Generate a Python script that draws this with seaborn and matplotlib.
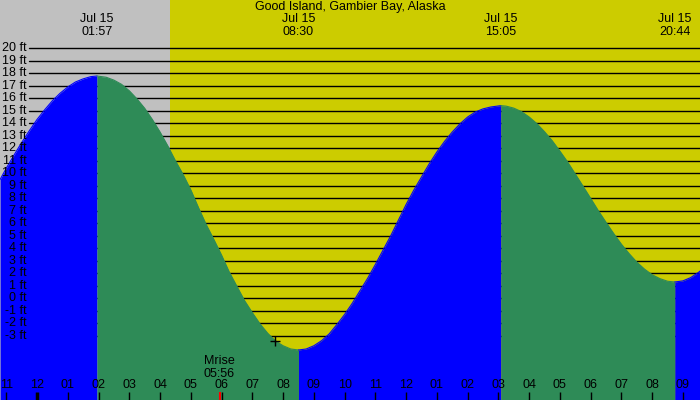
import numpy as np
import pandas as pd
import matplotlib
matplotlib.use("Agg")
import matplotlib.pyplot as plt
import matplotlib.transforms as mtransforms
import seaborn as sns

title = "Good Island, Gambier Bay, Alaska"

# tide height (ft), hours from midnight Jul 15
tide_hours = [-1.2, -1.0, -0.75, -0.5, -0.25, 0.0, 0.25, 0.5, 0.75, 1.0, 1.25, 1.5, 1.75, 1.95,
              2.25, 2.5, 2.75, 3.0, 3.25, 3.5, 3.75, 4.0, 4.25, 4.5, 4.75, 5.0, 5.25, 5.5, 5.75,
              6.0, 6.25, 6.5, 6.75, 7.0, 7.25, 7.5, 7.75, 8.0, 8.25, 8.5,
              8.75, 9.0, 9.25, 9.5, 9.75, 10.0, 10.25, 10.5, 10.75, 11.0, 11.25, 11.5, 11.75,
              12.0, 12.25, 12.5, 12.75, 13.0, 13.25, 13.5, 13.75, 14.0, 14.25, 14.5, 14.75, 15.083,
              15.25, 15.5, 15.75, 16.0, 16.25, 16.5, 16.75, 17.0, 17.25, 17.5, 17.75, 18.0,
              18.25, 18.5, 18.75, 19.0, 19.25, 19.5, 19.75, 20.0, 20.25, 20.5, 20.733,
              21.0, 21.25, 21.5, 21.6]
tide_ft = [9.5, 10.4, 11.44, 12.45, 13.4, 14.3, 15.08, 15.8, 16.4, 16.9, 17.3, 17.55, 17.73, 17.78,
           17.68, 17.45, 17.11, 16.6, 15.95, 15.2, 14.3, 13.3, 12.2, 11.0, 9.9, 8.67, 7.25, 5.9, 4.7,
           3.45, 2.1, 0.95, -0.2, -1.15, -2.05, -2.8, -3.41, -3.8, -4.06, -4.14,
           -4.06, -3.8, -3.4, -2.85, -2.1, -1.3, -0.4, 0.6, 1.6, 2.7, 3.85, 5.0, 6.25,
           7.5, 8.65, 9.7, 10.75, 11.7, 12.55, 13.3, 13.95, 14.5, 14.9, 15.15, 15.3, 15.41,
           15.37, 15.21, 14.93, 14.5, 13.97, 13.32, 12.6, 11.77, 10.9, 9.94, 8.97, 7.99,
           7.0, 6.07, 5.17, 4.32, 3.57, 2.89, 2.33, 1.88, 1.57, 1.36, 1.3,
           1.39, 1.65, 2.06, 2.26]

# highs / lows shown at the top
extreme_hours = [1.95, 8.5, 15.083, 20.733]
extreme_labels = ["01:57", "08:30", "15:05", "20:44"]
extreme_dates = ["Jul 15", "Jul 15", "Jul 15", "Jul 15"]

sunrise_hour = 4.32
moonrise_hour = 5.933
moonrise_label = "05:56"

ft_levels = list(range(-3, 21))
hour_ticks = list(range(-1, 22))
hour_labels = ["11", "12", "01", "02", "03", "04", "05", "06", "07", "08", "09", "10",
               "11", "12", "01", "02", "03", "04", "05", "06", "07", "08", "09"]

marker_hour, marker_ft = 7.74, -3.42

# view window
x0, x1 = -1.203, 21.554
y0, y1 = -8.14, 23.86

sns.set_theme(style="white")
plt.rcParams["font.family"] = ["Liberation Sans", "DejaVu Sans"]
plt.rcParams["text.color"] = "black"
fs = 9

fig = plt.figure(figsize=(7, 4), dpi=100)
ax = fig.add_axes([0, 0, 1, 1])

# night / day background
ax.axvspan(x0, sunrise_hour, color="#c0c0c0", lw=0, zorder=0)
ax.axvspan(sunrise_hour, x1, color="#cccc00", lw=0, zorder=0)

# foot lines and labels
for v in ft_levels:
    ax.axhline(v, xmin=29 / 700, xmax=1, color="black", lw=1, zorder=1)
    ax.text(x0 + 27 / 30.76, v, f"{v} ft", ha="right", va="center",
            fontsize=fs, color="black", zorder=5)

# tide fill, split at highs and lows: rising blue, falling green
df = pd.DataFrame({"hour": tide_hours, "ft": tide_ft})
bounds = [x0 - 1] + extreme_hours + [x1 + 1]
colors = ["#0000ff", "#2e8b57"]
parts = []
for k in range(len(bounds) - 1):
    seg = df[(df["hour"] >= bounds[k]) & (df["hour"] <= bounds[k + 1])].copy()
    seg["seg"] = k
    ax.fill_between(seg["hour"], seg["ft"], y0, color=colors[k % 2], lw=0, zorder=2)
    parts.append(seg)
segs = pd.concat(parts)
sns.lineplot(data=segs, x="hour", y="ft", hue="seg", units="seg", estimator=None,
             palette=[colors[k % 2] for k in range(len(parts))], legend=False,
             lw=0.8, sort=False, ax=ax, zorder=3)
ax.set_xlim(x0, x1)
ax.set_ylim(y0, y1)
ax.axis("off")

trans = mtransforms.blended_transform_factory(ax.transData, ax.transAxes)

# hour ticks along the bottom
for h, lab in zip(hour_ticks, hour_labels):
    lw = 2.5 if h == 0 else 1
    ax.plot([h, h], [0, 8 / 400], color="black", lw=lw, transform=trans,
            zorder=4, solid_capstyle="butt")
    ax.text(h, 15 / 400, lab, ha="center", va="center", fontsize=fs,
            color="black", transform=trans, zorder=5)
ax.plot([moonrise_hour, moonrise_hour], [0, 8 / 400], color="red", lw=1.5,
        transform=trans, zorder=4, solid_capstyle="butt")
ax.text(moonrise_hour, 1 - 361 / 400, "Mrise", ha="center", va="center",
        fontsize=fs, color="black", transform=trans, zorder=5)
ax.text(moonrise_hour, 1 - 374 / 400, moonrise_label, ha="center", va="center",
        fontsize=fs, color="black", transform=trans, zorder=5)

# extremes at the top
for h, d, lab in zip(extreme_hours, extreme_dates, extreme_labels):
    ax.text(h, 1 - 19 / 400, d, ha="center", va="center", fontsize=fs,
            color="black", transform=trans, zorder=5)
    ax.text(h, 1 - 32 / 400, lab, ha="center", va="center", fontsize=fs,
            color="black", transform=trans, zorder=5)

ax.text(0.5, 1 - 7 / 400, title, ha="center", va="center", fontsize=fs,
        color="black", transform=ax.transAxes, zorder=5)

ax.plot(marker_hour, marker_ft, marker="+", color="black", ms=7, mew=1, zorder=4)

fig.savefig("out.png", dpi=100)
